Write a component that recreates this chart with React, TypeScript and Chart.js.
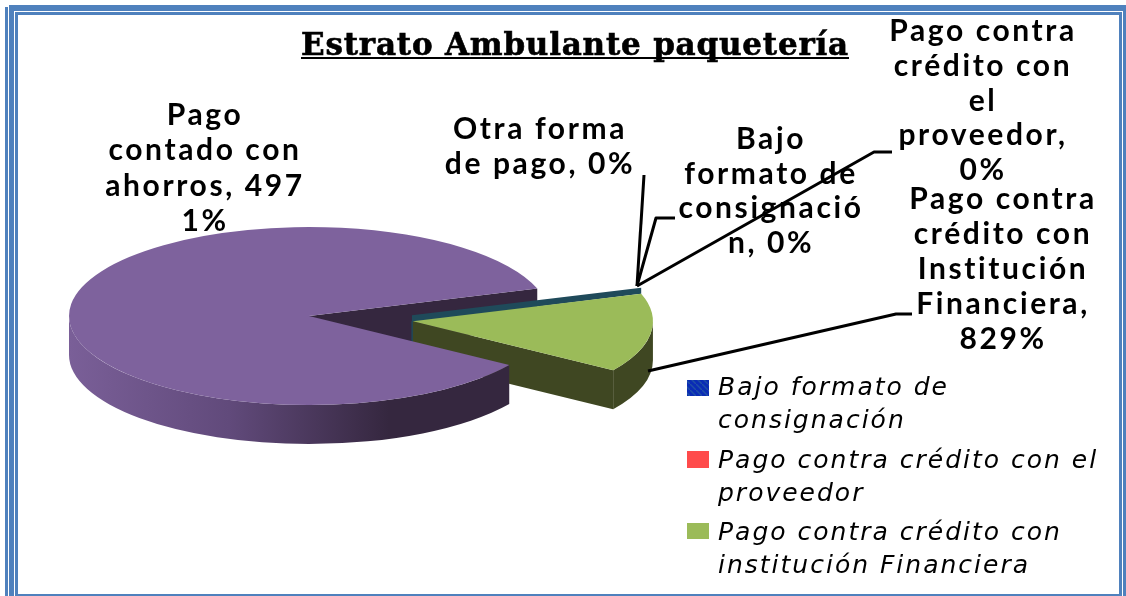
import React, { useEffect, useRef } from "react";
import { Chart, registerables } from "chart.js";

Chart.register(...registerables);

const categories = [
  "Otra forma de pago",
  "Bajo formato de consignación",
  "Pago contra crédito con el proveedor",
  "Pago contra crédito con Institución Financiera",
  "Pago contado con ahorros",
];
const seriesValues = [0, 0, 0, 8.29, 49.71];
const sliceColors = ["#1F4A5A", "#0A2CB5", "#FF4B4B", "#9BBB59", "#7E629D"];
const explodeFractions = [0, 0, 0, 0.437, 0];

const titleText = "Estrato Ambulante paquetería";
const labelOtra = ["Otra forma", "de pago, 0%"];
const labelBajo = ["Bajo", "formato de", "consignació", "n, 0%"];
const labelProveedor = ["Pago contra", "crédito con", "el", "proveedor,", "0%"];
const labelInstitucion = ["Pago contra", "crédito con", "Institución", "Financiera,", "829%"];
const labelContado = ["Pago", "contado con", "ahorros, 497", "1%"];
const legendBajo = ["Bajo formato de", "consignación"];
const legendProveedor = ["Pago contra crédito con el", "proveedor"];
const legendInstitucion = ["Pago contra crédito con", "institución Financiera"];

const W = 1126;
const H = 596;
const PIE = { cx: 309, cy: 316, rx: 240, ry: 89, depth: 39 };
const BLUE = "#4F81BD";

function explode(chart: any) {
  const a = chart.chartArea;
  const x0 = (a.left + a.right) / 2;
  const y0 = (a.top + a.bottom) / 2;
  chart.getDatasetMeta(0).data.forEach((arc: any, i: number) => {
    const h = (arc.startAngle + arc.endAngle) / 2;
    arc.x = x0 + Math.cos(h) * explodeFractions[i] * arc.outerRadius;
    arc.y = y0 + Math.sin(h) * explodeFractions[i] * arc.outerRadius;
  });
  return { x0, y0 };
}

function project(arc: any, x0: number, y0: number) {
  return {
    x: PIE.cx + ((arc.x - x0) * PIE.rx) / arc.outerRadius,
    y: PIE.cy + ((arc.y - y0) * PIE.ry) / arc.outerRadius,
  };
}

function rimPoint(c: { x: number; y: number }, a: number) {
  return { x: c.x + PIE.rx * Math.cos(a), y: c.y + PIE.ry * Math.sin(a) };
}

function quad(ctx: CanvasRenderingContext2D, p: any[], fill: any) {
  ctx.beginPath();
  ctx.moveTo(p[0].x, p[0].y);
  for (let i = 1; i < p.length; i++) ctx.lineTo(p[i].x, p[i].y);
  ctx.closePath();
  ctx.fillStyle = fill;
  ctx.fill();
}

function edgeWall(ctx: CanvasRenderingContext2D, c: any, a: number, d: number, fill: any) {
  const r = rimPoint(c, a);
  quad(ctx, [c, r, { x: r.x, y: r.y + d }, { x: c.x, y: c.y + d }], fill);
}

function rimWall(ctx: CanvasRenderingContext2D, c: any, a0: number, a1: number, fill: any) {
  ctx.beginPath();
  ctx.ellipse(c.x, c.y, PIE.rx, PIE.ry, 0, a0, a1);
  ctx.ellipse(c.x, c.y + PIE.depth, PIE.rx, PIE.ry, 0, a1, a0, true);
  ctx.closePath();
  ctx.fillStyle = fill;
  ctx.fill();
}

function drawLines(
  ctx: CanvasRenderingContext2D,
  lines: string[],
  x: number,
  y0: number,
  gap: number,
) {
  lines.forEach((l, i) => ctx.fillText(l, x, y0 + i * gap));
}

const threeD = {
  id: "threeD",
  beforeDraw(chart: any) {
    const ctx: CanvasRenderingContext2D = chart.ctx;
    ctx.save();
    ctx.fillStyle = "#fff";
    ctx.fillRect(0, 0, W, H);
    ctx.fillStyle = BLUE;
    const bars = [
      [9, 5, 1117, 6],
      [5, 7, 3, 589],
      [9, 5, 5, 591],
      [15, 12, 3, 584],
      [15, 12, 1107, 3],
      [1119, 12, 3, 584],
      [1123, 5, 3, 591],
      [15, 594, 1104, 2],
    ];
    bars.forEach((b) => ctx.fillRect(b[0], b[1], b[2], b[3]));
    ctx.restore();
  },
  beforeDatasetsDraw(chart: any) {
    const ctx: CanvasRenderingContext2D = chart.ctx;
    const { x0, y0 } = explode(chart);
    const arcs = chart.getDatasetMeta(0).data;
    const green = arcs[3];
    const purple = arcs[4];
    const gc = project(green, x0, y0);
    const pc = project(purple, x0, y0);
    ctx.save();
    // inner wall of the large slice, seen through the gap
    edgeWall(ctx, pc, purple.endAngle, PIE.depth, "#35273F");
    // thin slab behind the green slice
    const gr = rimPoint(gc, green.startAngle);
    quad(
      ctx,
      [
        { x: gc.x - 1, y: gc.y + 1 },
        gr,
        { x: gr.x, y: gr.y - 6 },
        { x: gc.x - 1, y: gc.y - 6 },
      ],
      sliceColors[0],
    );
    quad(
      ctx,
      [
        { x: gc.x - 1.5, y: gc.y },
        { x: gc.x, y: gc.y },
        { x: gc.x, y: gc.y + PIE.depth },
        { x: gc.x - 1.5, y: gc.y + PIE.depth },
      ],
      sliceColors[0],
    );
    // green walls
    edgeWall(ctx, gc, green.endAngle, PIE.depth, "#3F4722");
    rimWall(ctx, gc, 0, green.endAngle, "#3F4722");
    // purple rim wall
    const g = ctx.createLinearGradient(PIE.cx - PIE.rx, 0, PIE.cx + 80, 0);
    g.addColorStop(0, "#7A5F98");
    g.addColorStop(0.5, "#614A7B");
    g.addColorStop(1, "#35273F");
    rimWall(ctx, pc, purple.startAngle % (Math.PI * 2), Math.PI, g);
    ctx.restore();
    // project the pie's circle to an ellipse
    const R = purple.outerRadius;
    ctx.save();
    ctx.translate(PIE.cx, PIE.cy);
    ctx.scale(PIE.rx / R, PIE.ry / R);
    ctx.translate(-x0, -y0);
  },
  afterDatasetsDraw(chart: any) {
    chart.ctx.restore();
  },
  afterDraw(chart: any) {
    const ctx: any = chart.ctx;
    ctx.save();
    ctx.fillStyle = "#000";
    ctx.textBaseline = "alphabetic";

    // title
    ctx.textAlign = "center";
    ctx.font = 'bold 31px "DejaVu Serif"';
    ctx.letterSpacing = "0px";
    const tw = ctx.measureText(titleText).width;
    ctx.letterSpacing = ((548 - tw) / titleText.length).toFixed(2) + "px";
    ctx.fillText(titleText, 575, 55);
    ctx.strokeStyle = "#000";
    ctx.lineWidth = 0.6;
    ctx.strokeText(titleText, 575, 55);
    ctx.fillRect(301, 57, 548, 2);

    // leader lines
    ctx.letterSpacing = "0px";
    ctx.lineWidth = 3;
    ctx.lineJoin = "round";
    const leaders = [
      [[637, 286], [644, 175]],
      [[637, 286], [656, 218], [675, 218]],
      [[637, 286], [874, 152], [892, 152]],
      [[648, 371], [896, 314], [912, 314]],
    ];
    leaders.forEach((l) => {
      ctx.beginPath();
      l.forEach((p, i) => (i ? ctx.lineTo(p[0], p[1]) : ctx.moveTo(p[0], p[1])));
      ctx.stroke();
    });

    // data labels
    ctx.font = 'bold 30px Lato';
    ctx.letterSpacing = "2.6px";
    drawLines(ctx, labelContado, 205, 125, 35.3);
    drawLines(ctx, labelOtra, 540, 139, 35);
    drawLines(ctx, labelBajo, 771, 149, 34.7);
    drawLines(ctx, labelProveedor, 983, 41, 34.8);
    drawLines(ctx, labelInstitucion, 1003, 209, 35);

    // legend
    const hatch = document.createElement("canvas");
    hatch.width = 6;
    hatch.height = 6;
    const hc = hatch.getContext("2d")!;
    hc.fillStyle = "#0A2CB5";
    hc.fillRect(0, 0, 6, 6);
    hc.strokeStyle = "#1F4FA8";
    hc.lineWidth = 1.5;
    hc.beginPath();
    hc.moveTo(0, 0);
    hc.lineTo(6, 6);
    hc.stroke();
    ctx.fillStyle = ctx.createPattern(hatch, "repeat");
    ctx.fillRect(687, 380, 22, 16);
    ctx.fillStyle = sliceColors[2];
    ctx.fillRect(687, 451, 22, 17);
    ctx.fillStyle = sliceColors[3];
    ctx.fillRect(687, 523, 22, 16);
    ctx.fillStyle = "#000";
    ctx.textAlign = "left";
    ctx.font = 'oblique 25px "DejaVu Sans"';
    ctx.letterSpacing = "2px";
    drawLines(ctx, legendBajo, 718, 395, 33);
    drawLines(ctx, legendProveedor, 718, 468, 32.5);
    drawLines(ctx, legendInstitucion, 718, 540, 33);
    ctx.restore();
  },
};

export default function App() {
  const ref = useRef<HTMLCanvasElement>(null);
  useEffect(() => {
    document.body.style.margin = "0";
    document.body.style.overflow = "hidden";
    const chart = new Chart(ref.current!, {
      type: "pie",
      data: {
        labels: categories,
        datasets: [
          {
            data: seriesValues,
            backgroundColor: sliceColors,
            borderWidth: 0,
            hoverOffset: 0,
          },
        ],
      },
      options: {
        responsive: false,
        animation: false,
        rotation: 72,
        layout: { padding: 0 },
        plugins: { legend: { display: false }, title: { display: false }, tooltip: { enabled: false } },
        events: [],
      },
      plugins: [threeD],
    } as any);
    return () => chart.destroy();
  }, []);
  return (
    <div style={{ position: "absolute", left: 0, top: 0, width: W, height: H }}>
      <canvas ref={ref} width={W} height={H} style={{ display: "block" }} />
    </div>
  );
}
